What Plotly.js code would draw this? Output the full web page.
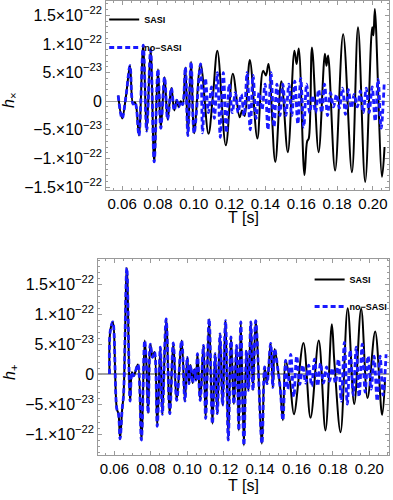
<!DOCTYPE html>
<html>
<head>
<meta charset="utf-8">
<script src="https://cdn.plot.ly/plotly-3.0.1.min.js"></script>
<style>html,body{margin:0;padding:0;background:#fff;}#chart{width:393px;height:500px;}</style>
</head>
<body>
<div id="chart"></div>
<script>
// Amplitudes are in units of 1e-23 (strain); UNIT converts them to strain.
var UNIT = 1e-23;

// ---- h_x (top panel) ----
var hxCommonT = [0.0578,0.0600,0.0622,0.0644,0.0661,0.0672,0.0680,0.0694,0.0718,0.0737,0.0759,0.0779,0.0800,0.0816,0.0837,0.0854,0.0875,0.0891,0.0905,0.0916,0.0927,0.0938,0.0953,0.0967,0.0985,0.1002,0.1038];
var hxCommonH = [1.0,-3.0,1.0,6.2,-0.5,-0.2,-1.2,-6.0,9.8,-5.2,9.0,-10.6,5.6,-4.7,4.2,-3.2,2.3,-1.6,0.2,-1.0,0.0,-0.6,5.9,-6.0,6.9,-5.6,6.5];

var hxSasiT = [0.1082,0.1107,0.1132,0.1179,0.1218,0.1256,0.1270,0.1284,0.1313,0.1355,0.1387,0.1403,0.1417,0.1455,0.1489,0.1525,0.1562,0.1574,0.1586,0.1618,0.1633,0.1642,0.1660,0.1697,0.1732,0.1741,0.1750,0.1789,0.1834,0.1883,0.1917,0.1957,0.1996,0.2003,0.2011,0.2051,0.2065];
var hxSasiH = [-5.7,1.0,8.8,-7.7,4.8,-2.8,-1.6,-2.6,7.2,-6.5,5.3,4.5,6.5,-10.6,3.5,-8.9,8.8,6.5,9.2,-12.9,-7.0,-6.5,9.4,-8.9,8.3,6.2,8.0,-12.1,11.7,-12.4,12.9,-14.1,12.9,11.5,16.1,-13.2,-8.0];

var hxNoSasiT = [0.1049,0.1065,0.1082,0.1099,0.1115,0.1132,0.1148,0.1165,0.1182,0.1198,0.1215,0.1232,0.1248,0.1265,0.1281,0.1298,0.1315,0.1331,0.1348,0.1365,0.1381,0.1398,0.1414,0.1431,0.1448,0.1464,0.1481,0.1497,0.1514,0.1531,0.1547,0.1564,0.1581,0.1597,0.1614,0.1630,0.1647,0.1664,0.1680,0.1697,0.1714,0.1730,0.1747,0.1763,0.1780,0.1797,0.1813,0.1830,0.1847,0.1863,0.1880,0.1896,0.1913,0.1930,0.1946,0.1963,0.1979,0.1996,0.2013,0.2029,0.2046,0.2063];
var hxNoSasiH = [-5.5,4.0,-2.0,2.5,-3.0,5.0,-6.3,5.0,-5.5,3.0,-2.0,1.5,-2.0,1.2,-2.5,5.0,-5.0,4.5,-3.0,1.5,-1.5,3.0,-5.0,5.0,-4.5,3.0,-2.5,3.0,-2.5,3.0,-2.5,3.5,-4.0,4.0,-4.5,3.0,-2.0,1.0,-2.0,2.0,-2.0,3.0,-2.5,1.5,-1.0,1.2,-1.2,2.3,-2.3,2.0,-1.2,1.2,-1.0,1.8,-2.0,2.3,-2.0,2.5,-3.5,3.8,-4.7,3.0];

// ---- h_+ (bottom panel) ----
var hpCommonT = [0.0573,0.0577,0.0591,0.0613,0.0622,0.0631,0.0642,0.0650,0.0668,0.0686,0.0696,0.0705,0.0714,0.0729,0.0748,0.0766,0.0775,0.0785,0.0797,0.0809,0.0820,0.0835,0.0852,0.0863,0.0884,0.0904,0.0923,0.0942,0.0969,0.0987,0.1000,0.1009,0.1018,0.1029,0.1040,0.1048,0.1056,0.1071,0.1089,0.1101,0.1120,0.1138,0.1153,0.1165,0.1180,0.1194,0.1210,0.1225,0.1240,0.1256,0.1271,0.1283,0.1294,0.1311,0.1325,0.1336,0.1349,0.1361,0.1376,0.1410,0.1425,0.1438,0.1458,0.1470,0.1480,0.1498,0.1510,0.1525,0.1540];
var hpCommonH = [0.0,7.2,8.7,-5.8,-6.6,-10.8,-6.0,-3.5,17.7,-4.5,0.3,-0.3,0.3,1.6,-11.0,5.6,2.0,-6.5,5.0,2.8,3.7,-8.7,4.5,-6.7,9.2,-6.6,5.2,-4.4,5.6,-4.5,2.8,-1.6,1.5,-1.5,0.8,-1.0,3.4,-4.4,4.8,-7.4,9.2,-8.3,3.4,-6.6,6.7,-5.2,8.9,-11.0,6.2,-5.0,4.8,-9.4,8.7,-11.9,3.9,-2.7,8.7,-2.7,8.9,-11.6,1.2,-1.6,5.1,-2.2,4.2,0.7,-2.2,-7.7,2.3];

var hpSasiT = [0.1563,0.1586,0.1638,0.1677,0.1722,0.1759,0.1794,0.1808,0.1842,0.1881,0.1917,0.1955,0.1990,0.2032,0.2070,0.2086];
var hpSasiH = [-1.0,-6.7,5.2,-7.3,5.6,-9.4,8.3,2.0,-9.7,11.0,-5.0,10.9,-4.0,7.1,-6.8,-1.0];

var hpNoSasiT = [0.1552,0.1568,0.1585,0.1601,0.1618,0.1634,0.1650,0.1667,0.1683,0.1699,0.1716,0.1732,0.1748,0.1765,0.1781,0.1797,0.1814,0.1830,0.1846,0.1863,0.1879,0.1895,0.1912,0.1928,0.1944,0.1961,0.1977,0.1993,0.2010,0.2026,0.2043,0.2059,0.2075,0.2092];
var hpNoSasiH = [-2.5,3.3,-3.8,3.0,-1.7,1.5,-1.5,1.5,-2.0,2.5,-2.0,1.8,-1.5,1.2,-1.2,1.0,-1.5,2.5,-4.5,5.3,-5.0,4.0,-3.5,4.5,-3.8,5.0,-3.0,3.0,-2.5,3.0,-4.5,3.0,-3.5,3.3];

// ---- ticks & labels ----
var xTickVals = [0.06,0.08,0.10,0.12,0.14,0.16,0.18,0.20];
var xTickText = ['0.06','0.08','0.10','0.12','0.14','0.16','0.18','0.20'];
var E22 = '<sup>\u221222</sup>';
var E23 = '<sup>\u221223</sup>';
var yTopTickVals = [-1.5e-22,-1e-22,-5e-23,0,5e-23,1e-22,1.5e-22];
var yTopTickText = ['\u22121.5\u00d710'+E22,'\u22121.\u00d710'+E22,'\u22125.\u00d710'+E23,'0','5.\u00d710'+E23,'1.\u00d710'+E22,'1.5\u00d710'+E22];
var yBotTickVals = [-1e-22,-5e-23,0,5e-23,1e-22,1.5e-22];
var yBotTickText = ['\u22121.\u00d710'+E22,'\u22125.\u00d710'+E23,'0','5.\u00d710'+E23,'1.\u00d710'+E22,'1.5\u00d710'+E22];
var xTitle = 'T [s]';
var yTopTitle = '<i>h</i><sub>\u00d7</sub>';
var yBotTitle = '<i>h</i><sub>+</sub>';
var seriesNames = ['<b>SASI</b>', '<b>no\u2212SASI</b>'];

function scale(a){ return a.map(function(v){ return v*UNIT; }); }

var BLACK = '#000000', BLUE = '#1a1aff';
var FONT = 'Liberation Sans, Arial, sans-serif';
var blackLine = {color:BLACK, width:2, shape:'spline', smoothing:1};
var blueLine = {color:BLUE, width:2.8, dash:'5px,3px', shape:'spline', smoothing:1};

var traces = [
  {x: hxCommonT.concat(hxSasiT), y: scale(hxCommonH.concat(hxSasiH)), xaxis:'x', yaxis:'y',
   name:seriesNames[0], legendgroup:'a', legend:'legend', mode:'lines', line:blackLine},
  {x: hxCommonT.concat(hxNoSasiT), y: scale(hxCommonH.concat(hxNoSasiH)), xaxis:'x', yaxis:'y',
   name:seriesNames[1], legendgroup:'b', legend:'legend', mode:'lines', line:blueLine},
  {x: hpCommonT.concat(hpSasiT), y: scale(hpCommonH.concat(hpSasiH)), xaxis:'x2', yaxis:'y2',
   name:seriesNames[0], legendgroup:'c', legend:'legend2', mode:'lines', line:blackLine},
  {x: hpCommonT.concat(hpNoSasiT), y: scale(hpCommonH.concat(hpNoSasiH)), xaxis:'x2', yaxis:'y2',
   name:seriesNames[1], legendgroup:'d', legend:'legend2', mode:'lines', line:blueLine}
];

function xAxis(domain, range, anchor) {
  return {
    domain: domain, range: range, anchor: anchor,
    tickmode:'array', tickvals:xTickVals, ticktext:xTickText,
    ticks:'inside', ticklen:4, tickcolor:'#9a9a9a', tickwidth:1,
    showline:true, linecolor:'#9a9a9a', linewidth:1, mirror:'ticks',
    showgrid:false, zeroline:false,
    tickfont:{family:FONT, size:15, color:'#000'},
    minor:{dtick:0.005, tick0:0, ticks:'inside', ticklen:2, tickcolor:'#9a9a9a', showgrid:false}
  };
}
function yAxis(domain, range, anchor, tv, tt) {
  return {
    domain: domain, range: range, anchor: anchor,
    tickmode:'array', tickvals:tv, ticktext:tt,
    ticks:'inside', ticklen:4, tickcolor:'#9a9a9a', tickwidth:1,
    showline:true, linecolor:'#9a9a9a', linewidth:1, mirror:'ticks',
    showgrid:false, zeroline:true, zerolinecolor:'#a0a0a0', zerolinewidth:1.2,
    tickfont:{family:FONT, size:16, color:'#000'},
    minor:{dtick:1e-23, tick0:0, ticks:'inside', ticklen:2, tickcolor:'#9a9a9a', showgrid:false}
  };
}

var titleFont = {family:FONT, size:16, color:'#000'};
var layout = {
  width:393, height:500,
  margin:{l:0, r:0, t:0, b:0},
  paper_bgcolor:'#fff', plot_bgcolor:'#fff',
  showlegend:true,
  xaxis: xAxis([107/393, 392/393], [0.0511, 0.2090], 'y'),
  yaxis: yAxis([1-190/500, 1-1/500], [-15.5e-23, 17.5e-23], 'x', yTopTickVals, yTopTickText),
  xaxis2: xAxis([99/393, 392/393], [0.0511, 0.2108], 'y2'),
  yaxis2: yAxis([1-455/500, 1-259/500], [-13.5e-23, 19.2e-23], 'x2', yBotTickVals, yBotTickText),
  legend: {x:105/393, y:1-5/500, xanchor:'left', yanchor:'top', bgcolor:'rgba(0,0,0,0)',
           font:{family:FONT, size:9, color:'#000'}, tracegroupgap:9, traceorder:'grouped'},
  legend2: {x:312/393, y:1-265/500, xanchor:'left', yanchor:'top', bgcolor:'rgba(0,0,0,0)',
           font:{family:FONT, size:9, color:'#000'}, tracegroupgap:8, traceorder:'grouped'},
  annotations: [
    {text:xTitle, xref:'paper', yref:'paper', x:245/393, y:1-218/500, xanchor:'center', yanchor:'middle', showarrow:false, font:titleFont},
    {text:xTitle, xref:'paper', yref:'paper', x:245/393, y:1-485/500, xanchor:'center', yanchor:'middle', showarrow:false, font:titleFont},
    {text:yTopTitle, xref:'paper', yref:'paper', x:10/393, y:1-100/500, xanchor:'center', yanchor:'middle', textangle:-90, showarrow:false, font:titleFont},
    {text:yBotTitle, xref:'paper', yref:'paper', x:10/393, y:1-372/500, xanchor:'center', yanchor:'middle', textangle:-90, showarrow:false, font:titleFont}
  ]
};

Plotly.newPlot('chart', traces, layout, {displayModeBar:false, staticPlot:true});
</script>
</body>
</html>
